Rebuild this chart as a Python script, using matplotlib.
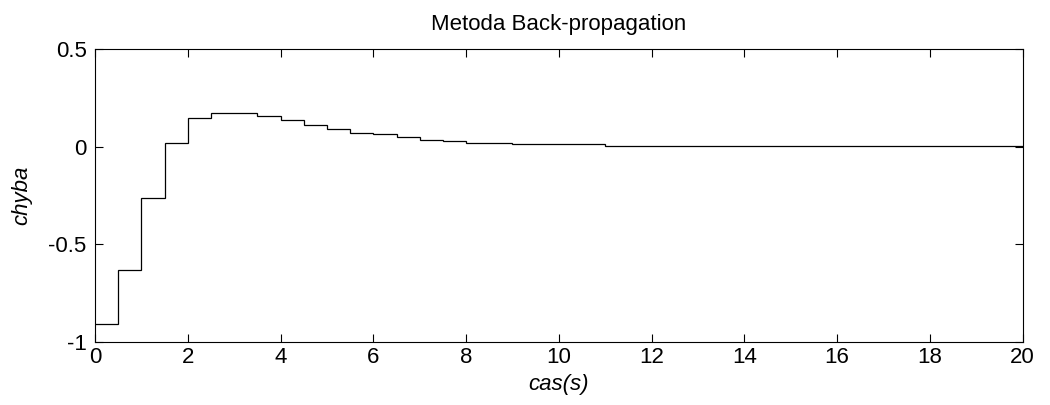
import numpy as np
import matplotlib.pyplot as plt

plt.rcParams['font.family'] = ['Liberation Sans', 'DejaVu Sans']
plt.rcParams['font.size'] = 16

# step edges (s) and error value held on each interval
edges = [0, 0.5, 1, 1.5, 2, 2.5, 3.5, 4, 4.5, 5, 5.5, 6, 6.5, 7, 7.5, 8, 9, 11, 20]
chyba = [-0.908, -0.633, -0.263, 0.017, 0.147, 0.174, 0.157, 0.138, 0.113,
         0.092, 0.072, 0.065, 0.048, 0.036, 0.028, 0.019, 0.012, 0.003]

fig = plt.figure(figsize=(10.5, 4.05), dpi=100)
ax = fig.add_axes([0.0905, 0.156, 0.8835, 0.723])
ax.stairs(chyba, edges, color='black', linewidth=0.9, baseline=None)

ax.set_xlim(0, 20)
ax.set_ylim(-1, 0.5)
ax.set_xticks(np.arange(0, 21, 2))
ax.set_yticks([-1, -0.5, 0, 0.5])
ax.set_yticklabels(['-1', '-0.5', '0', '0.5'])
ax.tick_params(direction='in', top=True, right=True, length=6, width=0.8, pad=4)
ax.tick_params(axis='y', pad=6)
for s in ax.spines.values():
    s.set_linewidth(0.8)

ax.set_title('Metoda Back-propagation', fontsize=16, pad=14)
ax.set_xlabel('cas(s)', style='italic', labelpad=4)
ax.set_ylabel('chyba', style='italic', labelpad=12)

fig.savefig('out.png')
